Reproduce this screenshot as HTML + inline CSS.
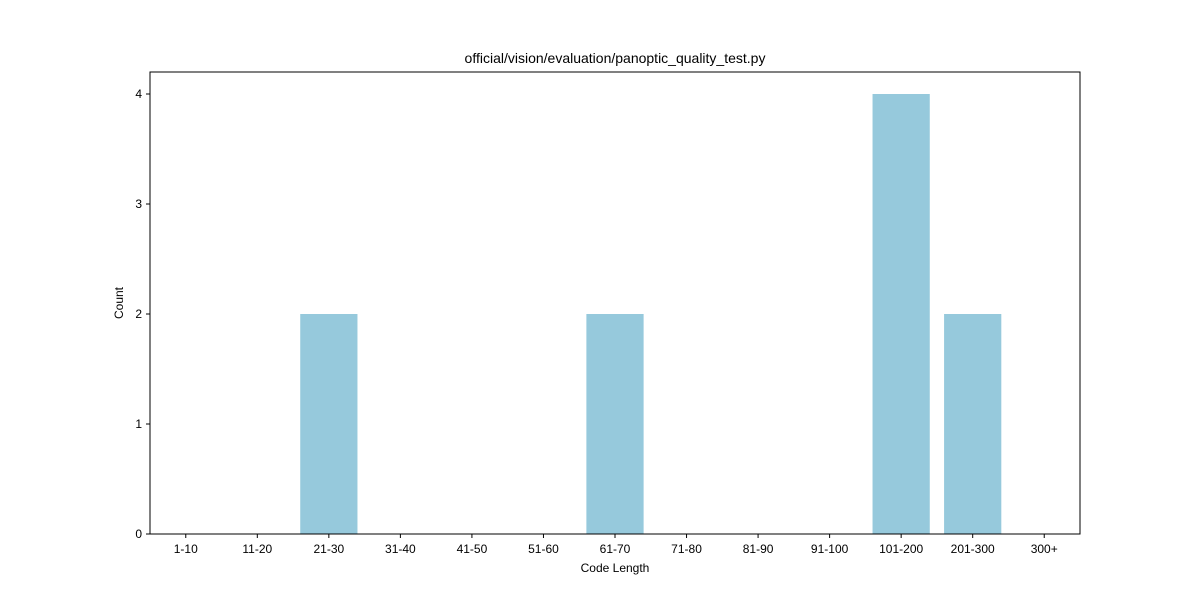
<!DOCTYPE html>
<html><head><meta charset="utf-8"><style>
body{margin:0;background:#fff;font-family:"Liberation Sans",sans-serif;}
</style></head><body>
<svg id="chart" width="1200" height="600" xmlns="http://www.w3.org/2000/svg" font-family="Liberation Sans, sans-serif">
<rect width="1200" height="600" fill="#fff"/>
<text x="615" y="63" text-anchor="middle" font-size="14" fill="#000">official/vision/evaluation/panoptic_quality_test.py</text>
<g id="bars"></g>
<g id="axes"></g>
<text x="615" y="572" text-anchor="middle" font-size="12">Code Length</text>
<text transform="translate(123,303) rotate(-90)" text-anchor="middle" font-size="12">Count</text>
</svg>
<script>
const categories=["1-10","11-20","21-30","31-40","41-50","51-60","61-70","71-80","81-90","91-100","101-200","201-300","300+"];
const counts=[0,0,2,0,0,0,2,0,0,0,4,2,0];
const yTicks=[0,1,2,3,4];
const L=150,R=1080,T=72,B=534;
const NS="http://www.w3.org/2000/svg";
const x=i=>L+(i+0.5)*(R-L)/categories.length;
const y=v=>B-v*110;
const bw=0.8*(R-L)/categories.length;
const bars=document.getElementById('bars'),axes=document.getElementById('axes');
function mk(tag,attrs,parent){const e=document.createElementNS(NS,tag);for(const k in attrs)e.setAttribute(k,attrs[k]);parent.appendChild(e);return e;}
counts.forEach((c,i)=>{
 if(c<=0)return;
 const r=mk('rect',{x:x(i)-bw/2,y:y(c),width:bw,height:B-y(c),fill:'#96c9dc'},bars);
 
 
});
const frame=mk('rect',{x:L,y:T,width:R-L,height:B-T,fill:'none',stroke:'#000','stroke-width':1},axes);


categories.forEach((c,i)=>{
 mk('line',{x1:x(i),x2:x(i),y1:B,y2:B+4,stroke:'#000'},axes);
 const t=mk('text',{x:x(i),y:B+19,'text-anchor':'middle','font-size':12},axes);
 t.textContent=c;
 
 
});
yTicks.forEach(v=>{
 mk('line',{x1:L-4,x2:L,y1:y(v),y2:y(v),stroke:'#000'},axes);
 const t=mk('text',{x:L-8,y:y(v)+4,'text-anchor':'end','font-size':12},axes);
 t.textContent=v;
 
 
});
</script>
</body></html>
